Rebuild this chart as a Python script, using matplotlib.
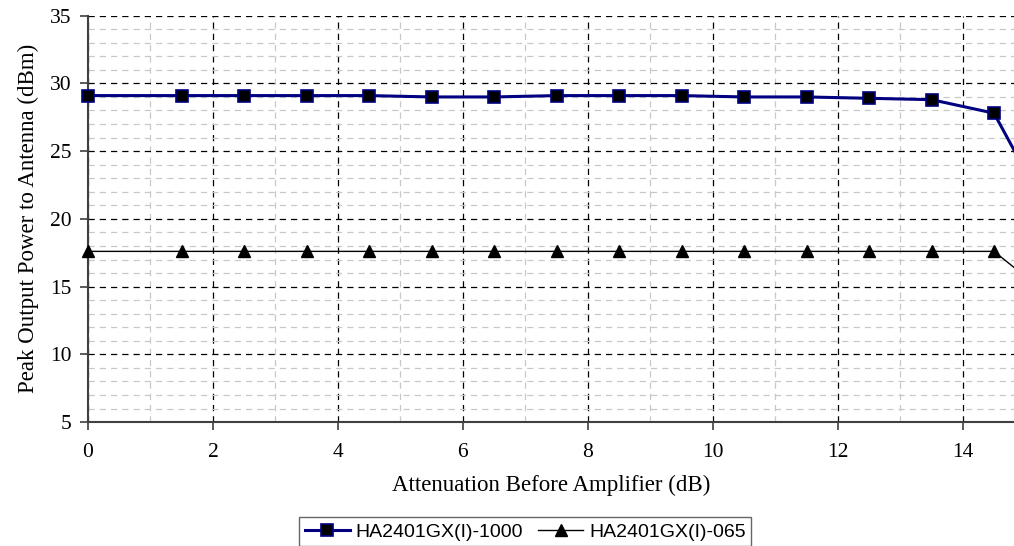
import numpy as np
import matplotlib.pyplot as plt
from matplotlib.ticker import MultipleLocator

# attenuation before amplifier (dB)
atten = [0, 1.5, 2.5, 3.5, 4.5, 5.5, 6.5, 7.5, 8.5, 9.5, 10.5, 11.5, 12.5, 13.5, 14.5, 15.5]
# peak output power (dBm)
ha_1000 = [29.1, 29.1, 29.1, 29.1, 29.1, 29.0, 29.0, 29.1, 29.1, 29.1, 29.0, 29.0, 28.9, 28.8, 27.8, 19.3]
ha_065 = [17.6, 17.6, 17.6, 17.6, 17.6, 17.6, 17.6, 17.6, 17.6, 17.6, 17.6, 17.6, 17.6, 17.6, 17.6, 13.9]

serif = ['Liberation Serif', 'DejaVu Serif']

fig = plt.figure(figsize=(10.14, 5.46), dpi=100)
ax = fig.add_axes([0.0868, 0.227, 0.9132, 0.7443])

ax.plot(atten, ha_1000, color='#000080', lw=2.2, marker='s', ms=9,
        mfc='black', mec='#000080', mew=1.2, clip_on=False, zorder=5,
        label='HA2401GX(I)-1000')
ax.plot(atten, ha_065, color='black', lw=1.0, marker='^', ms=8,
        mfc='black', mec='black', clip_on=False, zorder=5,
        label='HA2401GX(I)-065')

ax.set_xlim(0, 14.82)
ax.set_ylim(5, 35)
ax.xaxis.set_major_locator(MultipleLocator(2))
ax.xaxis.set_minor_locator(MultipleLocator(1))
ax.yaxis.set_major_locator(MultipleLocator(5))
ax.yaxis.set_minor_locator(MultipleLocator(1))

ax.grid(which='major', axis='both', color='black', ls=(0, (5, 4)), lw=0.9)
ax.grid(which='minor', axis='both', color='#c8c8c8', ls=(0, (5, 4)), lw=0.9)
ax.set_axisbelow(True)

for s in ['top', 'right']:
    ax.spines[s].set_visible(False)
for s in ['left', 'bottom']:
    ax.spines[s].set_color('#404040')
    ax.spines[s].set_linewidth(1.5)

ax.tick_params(which='major', direction='out', length=6, width=1.2, color='#404040',
               labelsize=15.5, pad=6)
ax.tick_params(axis='x', which='major', pad=9)
ax.tick_params(which='minor', length=0)
for lab in ax.get_xticklabels() + ax.get_yticklabels():
    lab.set_family(serif)

ax.set_xlabel('Attenuation Before Amplifier (dB)', family=serif, fontsize=16.5, labelpad=9)
ax.set_ylabel('Peak Output Power to Antenna (dBm)', family=serif, fontsize=16.5, labelpad=8)

leg = fig.legend(loc='upper center', bbox_to_anchor=(0.518, 0.053), ncol=2,
                 frameon=True, fancybox=False, edgecolor='#404040',
                 prop={'family': ['Liberation Sans', 'DejaVu Sans'], 'size': 14},
                 handlelength=2.3, handletextpad=0.3, columnspacing=0.8,
                 borderpad=0.3, borderaxespad=0)
leg.get_frame().set_linewidth(1.0)

fig.savefig('out.png', dpi=100)
